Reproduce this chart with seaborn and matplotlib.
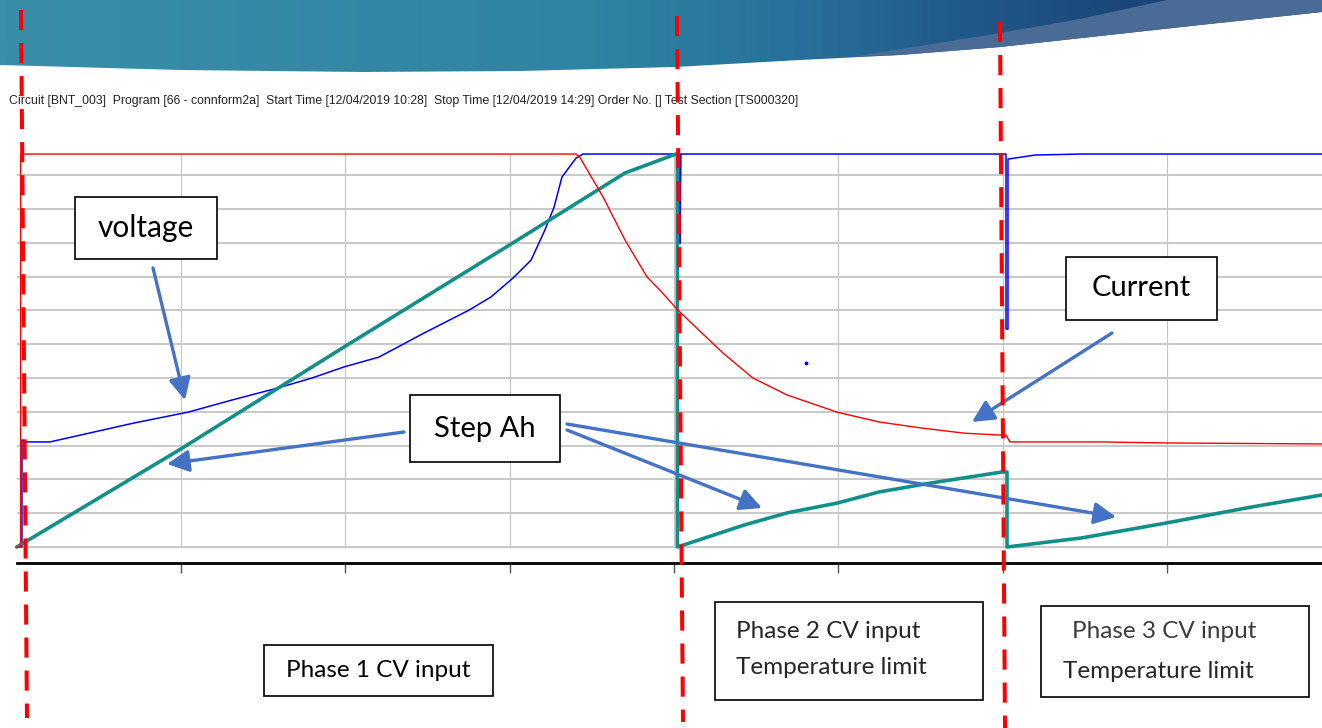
import numpy as np
import pandas as pd
import seaborn as sns
import matplotlib.pyplot as plt
from matplotlib.patches import Rectangle, Polygon
from matplotlib.colors import LinearSegmentedColormap

# time in hours since start (10:28), values in chart grid units (no scale printed)
current_t = [0.0, 0.012, 0.012, 1.702, 1.713, 1.784, 1.851, 1.918, 1.957, 2.012, 2.085,
             2.149, 2.240, 2.344, 2.496, 2.624, 2.754, 2.882, 2.998, 3.010, 3.022, 3.296,
             3.497, 3.971]
current_v = [0.0, 0.0, 11.63, 11.63, 11.54, 10.36, 9.08, 7.99, 7.60, 7.01, 6.33,
             5.74, 5.00, 4.50, 3.99, 3.70, 3.52, 3.37, 3.31, 3.31, 3.11, 3.11,
             3.08, 3.05]

voltage_t = [0.0, 0.016, 0.016, 0.031, 0.101, 0.220, 0.357, 0.521, 0.655, 0.792, 0.898,
             0.996, 1.102, 1.239, 1.376, 1.443, 1.510, 1.565, 1.607, 1.635, 1.659, 1.702,
             1.723, 2.018, 2.018, 2.021, 3.010, 3.010, 3.016, 3.016, 3.098, 3.241, 3.971]
voltage_v = [0.0, 0.0, 3.17, 3.11, 3.11, 3.37, 3.67, 3.99, 4.35, 4.70, 5.00,
             5.33, 5.62, 6.33, 7.01, 7.40, 7.96, 8.49, 9.38, 10.06, 10.95, 11.51,
             11.63, 11.63, 8.99, 11.63, 11.63, 6.45, 6.45, 11.48, 11.60, 11.63, 11.63]
voltage_dot_t = [2.401]
voltage_dot_v = [5.44]

stepah_t = [0.0, 0.494, 0.996, 1.498, 1.851, 2.006, 2.010, 2.010, 2.213, 2.344, 2.496,
            2.624, 2.779, 2.998, 3.013, 3.013, 3.241, 3.497, 3.755, 3.971]
stepah_v = [0.0, 2.87, 5.92, 8.93, 11.07, 11.63, 11.63, 0.0, 0.65, 1.01, 1.30,
            1.63, 1.89, 2.22, 2.22, 0.0, 0.27, 0.71, 1.18, 1.54]

x_ticks = [0.5, 1.0, 1.5, 2.0, 2.5, 3.0, 3.5]
grid_levels = list(range(12))

header = ("Circuit [BNT_003]  Program [66 - connform2a]  Start Time [12/04/2019 10:28]  "
          "Stop Time [12/04/2019 14:29] Order No. [] Test Section [TS000320]")

W, H = 1322, 728
sns.set_style("white")
plt.rcParams['font.family'] = ['Lato', 'DejaVu Sans']

fig = plt.figure(figsize=(W / 100, H / 100), dpi=100)
fig.set_facecolor("white")

# main chart area (extends to the right edge, the screenshot is cropped there)
ax = fig.add_axes([16.7 / W, (H - 563) / H, (W - 16.7) / W, (563 - 152) / H])
ax.set_xlim(0, (W - 16.7) / 328.67)
ax.set_ylim(-0.473, 11.69)

ax.set_yticks(grid_levels)
ax.yaxis.grid(True, color="#c8c8c8", lw=1.4)
ax.set_xticks(x_ticks)
ax.set_xticklabels([])
ax.set_yticklabels([])
ax.tick_params(axis='y', length=0, left=False)
ax.tick_params(axis='x', bottom=True, length=7, width=1, color="#555555", direction='out')
ax.vlines(x_ticks, 0, max(voltage_v), color="#c4c4c4", lw=0.8, zorder=0.5)
for s in ["top", "left", "right"]:
    ax.spines[s].set_visible(False)
ax.spines["bottom"].set_color("black")
ax.spines["bottom"].set_linewidth(2)

volt = pd.DataFrame({"t": voltage_t, "v": voltage_v})
ah = pd.DataFrame({"t": stepah_t, "v": stepah_v})
curr = pd.DataFrame({"t": current_t, "v": current_v})
sns.lineplot(data=volt, x="t", y="v", color="#0000ff", lw=1.1, sort=False,
             estimator=None, errorbar=None, ax=ax, zorder=3)
sns.lineplot(data=ah, x="t", y="v", color="#138f8a", lw=2.6, sort=False,
             estimator=None, errorbar=None, ax=ax, zorder=4)
sns.lineplot(data=curr, x="t", y="v", color="#ff0000", lw=1.0, sort=False,
             estimator=None, errorbar=None, ax=ax, zorder=5)
ax.plot(voltage_dot_t, voltage_dot_v, "o", ms=1.8, color="#0000ff")
ax.set_xlabel("")
ax.set_ylabel("")
for l in ax.lines:
    l.set_clip_on(False)

# overlay in pixel coords for the slide decoration and annotations
ov = fig.add_axes([0, 0, 1, 1])
ov.set_xlim(0, W)
ov.set_ylim(H, 0)
ov.axis("off")
ov.patch.set_alpha(0)

# banner
banner = Polygon([(0, 0), (1322, 0), (1322, 12), (1200, 25), (1100, 36), (1000, 47),
                  (900, 55), (800, 60), (675, 67), (520, 71), (363, 72), (180, 70), (0, 65)],
                 closed=True, facecolor="none", edgecolor="none")
ov.add_patch(banner)
cmap = LinearSegmentedColormap.from_list(
    "banner", [(0, "#3a8ea9"), (0.45, "#2f84a2"), (0.6, "#28719a"),
               (0.72, "#215b8a"), (0.85, "#1b477a"), (1.0, "#1a4274")])
im = ov.imshow(np.linspace(0, 1, 600)[None, :], cmap=cmap, extent=(0, W, 80, 0),
               aspect="auto", zorder=1)
im.set_clip_path(banner)
wedge = Polygon([(1167, 0), (1322, 0), (1322, 12), (1200, 25), (1100, 36), (1000, 47),
                 (900, 55), (850, 57), (920, 46), (1000, 33), (1080, 19)],
                closed=True, facecolor="#4a6b96", edgecolor="none", zorder=2)
ov.add_patch(wedge)

ov.text(9, 101, header, fontsize=8.8, va="center", ha="left", color="#222222",
        family=["Liberation Sans", "DejaVu Sans"])

arrow_color = "#4472c4"
def arrow(tail, head):
    ov.annotate("", xy=head, xytext=tail, zorder=6,
                arrowprops=dict(arrowstyle="-|>,head_length=1.1,head_width=0.55",
                                color=arrow_color, lw=2.4, shrinkA=0, shrinkB=0,
                                mutation_scale=12))

def label_box(x0, y0, x1, y1, text, size=21):
    ov.add_patch(Rectangle((x0, y0), x1 - x0, y1 - y0, facecolor="white",
                           edgecolor="black", lw=1.2, zorder=7))
    ov.text((x0 + x1) / 2, (y0 + y1) / 2, text, fontsize=size, ha="center",
            va="center", color="black", zorder=8)

arrow((153, 268), (185, 400))
arrow((404, 432), (167, 464))
arrow((567, 430), (762, 508))
arrow((567, 424), (1116, 517))
arrow((1112, 333), (972, 422))

label_box(75, 197, 217, 259, "voltage", size=21.5)
label_box(410, 395, 560, 462, "Step Ah")
label_box(1066, 257, 1217, 320, "Current")

# phase boxes below the chart
label_box(264, 645, 493, 696, "Phase 1 CV input", size=17.5)
ov.add_patch(Rectangle((715, 602), 268, 98, facecolor="white", edgecolor="black",
                       lw=1.2, zorder=7))
ov.text(736, 632, "Phase 2 CV input", fontsize=17.5, va="center", zorder=8)
ov.text(736, 668, "Temperature limit", fontsize=17.5, va="center", zorder=8)
ov.add_patch(Rectangle((1041, 606), 268, 91, facecolor="white", edgecolor="black",
                       lw=1.2, zorder=7))
ov.text(1072, 632, "Phase 3 CV input", fontsize=17.5, va="center", zorder=8,
        color="#3c3c3c")
ov.text(1063, 671, "Temperature limit", fontsize=17.5, va="center", zorder=8)

# red dashed phase markers
for (x0, y0), (x1, y1) in [((21, 10), (27, 718)), ((677, 16), (683, 722)),
                           ((1000, 22), (1005, 728))]:
    ov.plot([x0, x1], [y0, y1], color="#ff0000", lw=2.9, ls=(0, (5, 3.2)), zorder=9,
            solid_capstyle="butt", dash_capstyle="butt")

fig.savefig("out.png", dpi=100, facecolor="white")
